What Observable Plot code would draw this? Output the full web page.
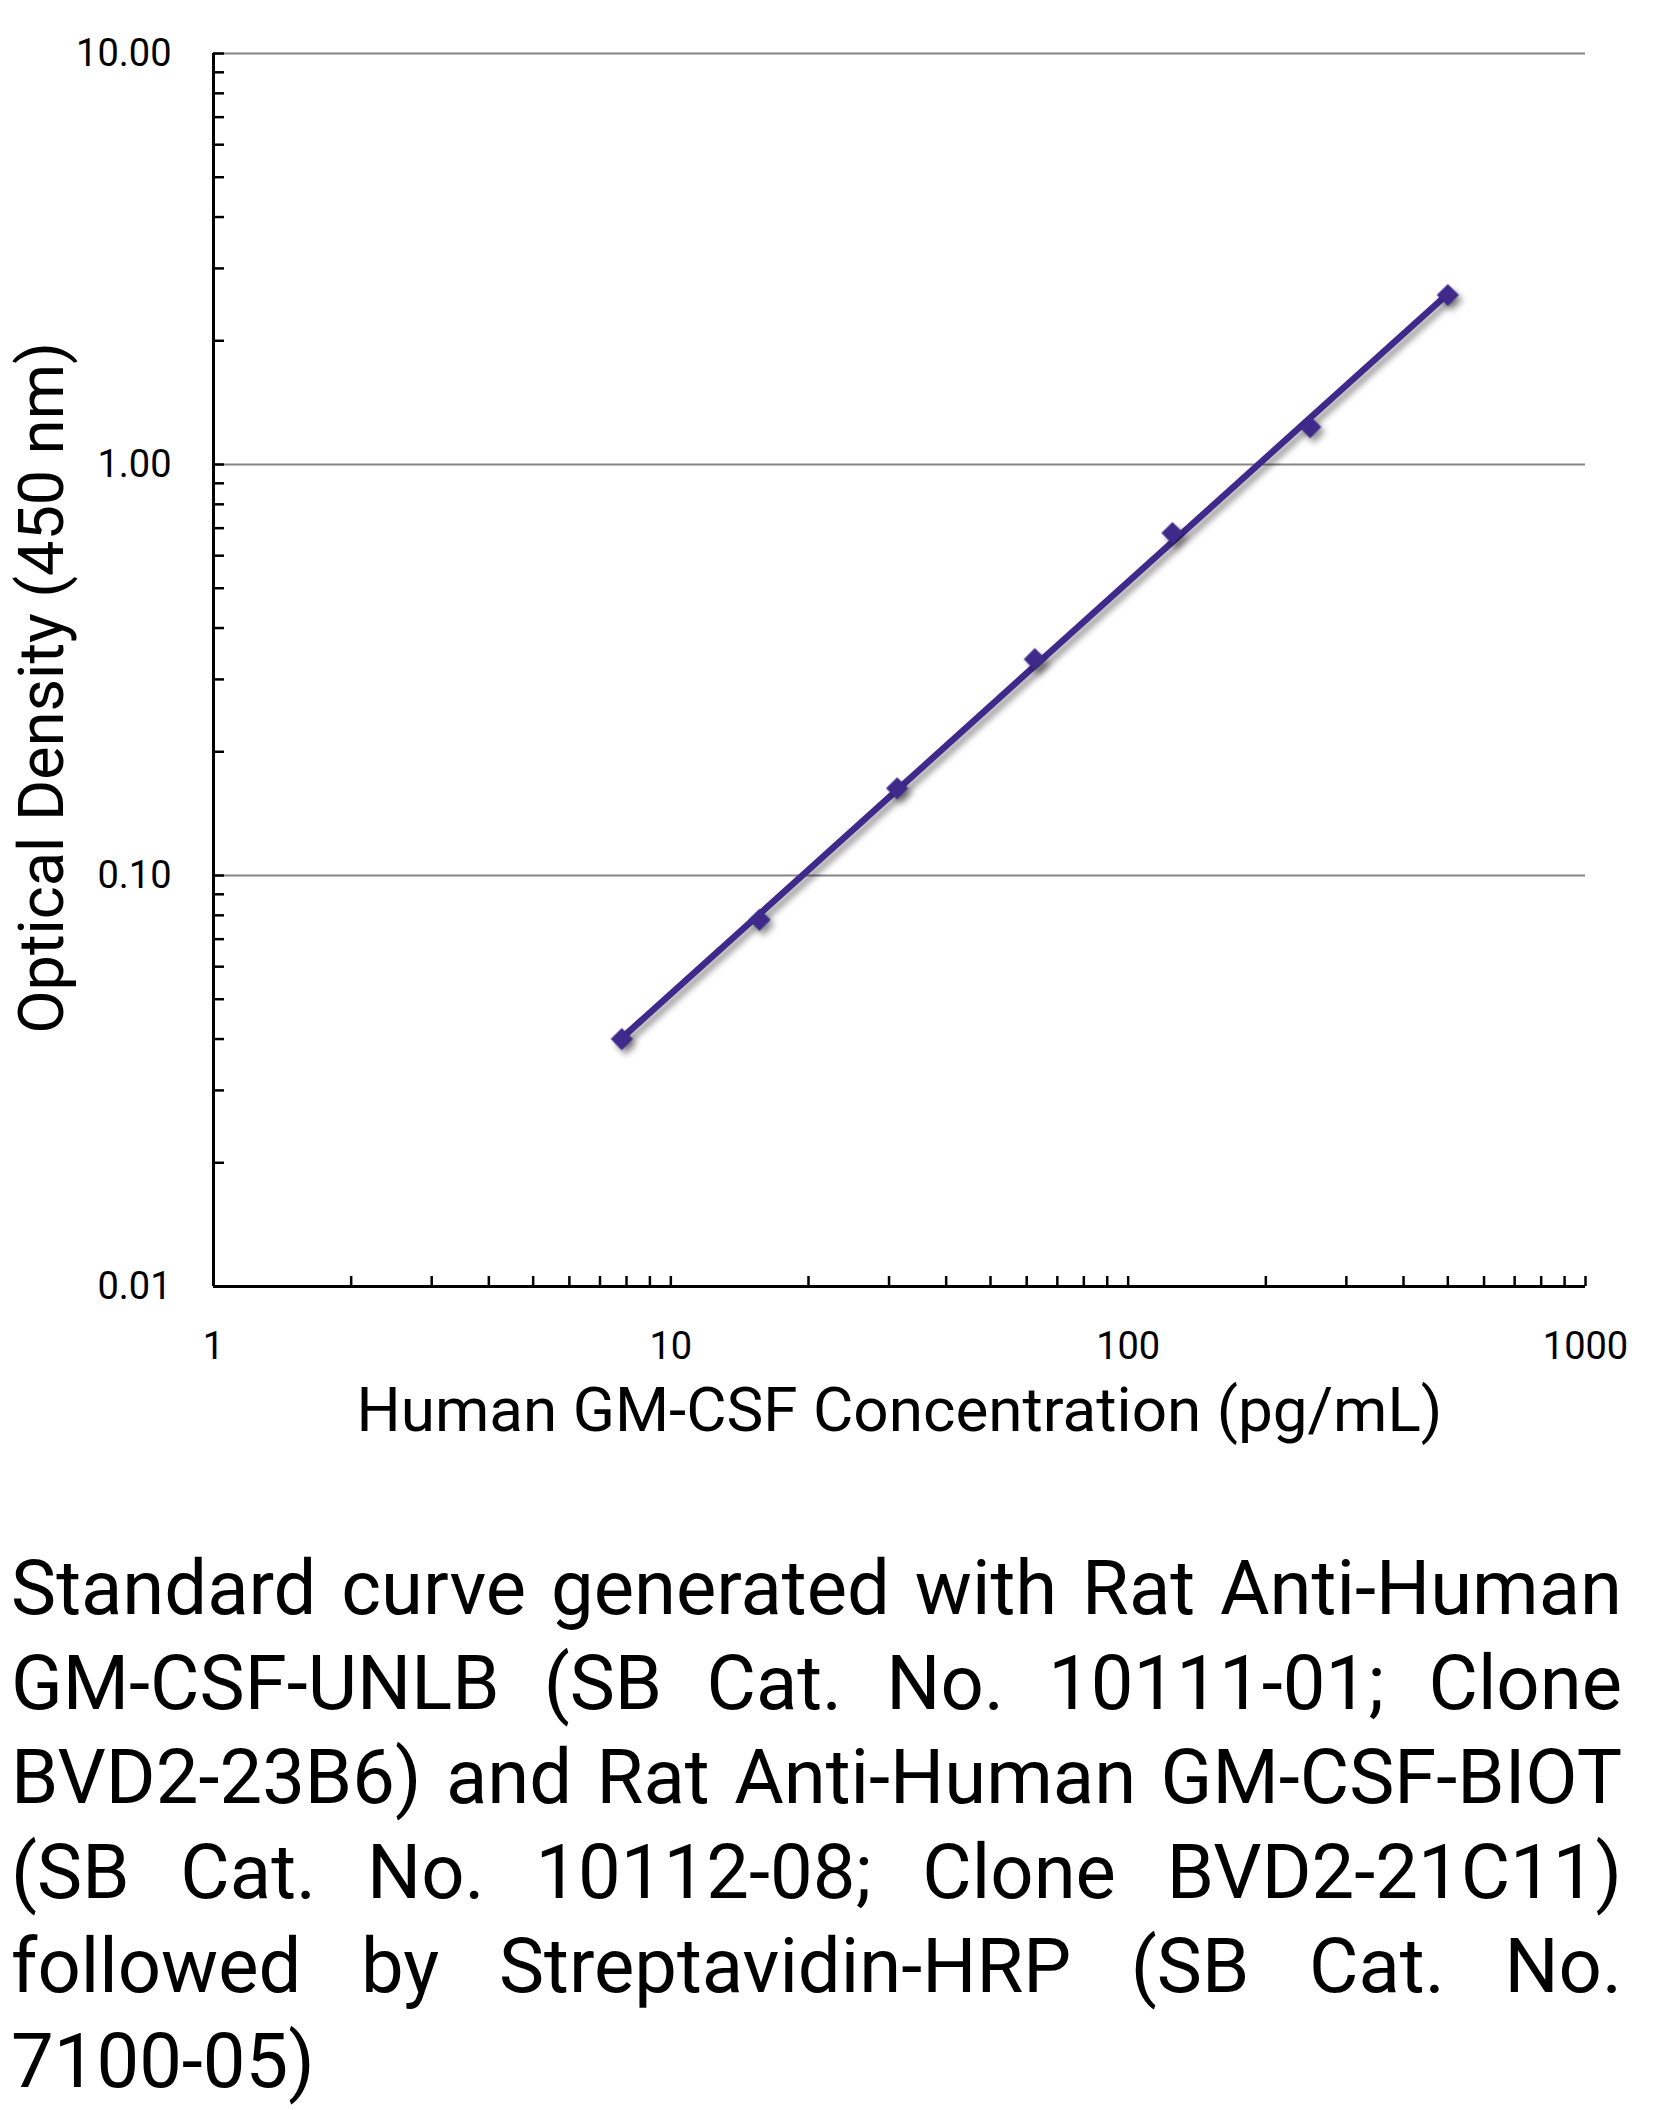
<!DOCTYPE html>
<html>
<head>
<meta charset="utf-8">
<script src="https://cdn.jsdelivr.net/npm/d3@7"></script>
<script src="https://cdn.jsdelivr.net/npm/@observablehq/plot@0.6"></script>
<style>
  html, body { margin: 0; padding: 0; background: #ffffff; }
  #page { position: relative; width: 1658px; height: 2110px; background: #ffffff; overflow: hidden; }
  #chart { position: absolute; left: 0; top: 0; }
  #caption { position: absolute; left: 11px; width: 1611px; top: 1541px; font-family: Roboto, sans-serif; font-size: 76px; line-height: 94.5px; color: #000; }
  #caption .ln { text-align: justify; text-align-last: justify; white-space: nowrap; }
  #caption .ln.last { text-align: left; text-align-last: left; }
</style>
</head>
<body>
<div id="page">
  <div id="chart"></div>
  <div id="caption"></div>
</div>
<script>
// ---- data ----
const concentration = [7.8125, 15.625, 31.25, 62.5, 125, 250, 500];
const opticalDensity = [0.040, 0.078, 0.163, 0.336, 0.681, 1.233, 2.585];
const xTickLabels = [1, 10, 100, 1000];
const yTickLabels = [0.01, 0.1, 1, 10];
const yGridLines = [0.1, 1, 10];
const xTitle = "Human GM-CSF Concentration (pg/mL)";
const yTitle = "Optical Density (450 nm)";
const captionLines = [
  "Standard curve generated with Rat Anti-Human",
  "GM-CSF-UNLB (SB Cat. No. 10111-01; Clone",
  "BVD2-23B6) and Rat Anti-Human GM-CSF-BIOT",
  "(SB Cat. No. 10112-08; Clone BVD2-21C11)",
  "followed by Streptavidin-HRP (SB Cat. No.",
  "7100-05)"
];

const data = concentration.map((c, i) => ({conc: c, od: opticalDensity[i]}));

// power trendline (least squares in log-log space), as in the original standard curve
const lx = concentration.map(Math.log10), ly = opticalDensity.map(Math.log10);
const mx = d3.mean(lx), my = d3.mean(ly);
const slope = d3.sum(lx, (v, i) => (v - mx) * (ly[i] - my)) / d3.sum(lx, v => (v - mx) ** 2);
const intercept = my - slope * mx;
const trend = d3.extent(concentration).map(c => ({conc: c, od: Math.pow(10, intercept + slope * Math.log10(c))}));

const xMinorTicks = d3.scaleLog().domain([1, 1000]).ticks().filter(d => d > 1);
const yMinorTicks = d3.scaleLog().domain([0.01, 10]).ticks().filter(d => d > 0.01);

const W = 1658, H = 1470;
const mL = 213, mT = 53, mR = 73, mB = H - 1286;
const plotW = W - mL - mR, plotH = H - mT - mB;
const purple = "#3f2a8c";

const chart = Plot.plot({
  width: W, height: H,
  marginLeft: mL, marginTop: mT, marginRight: mR, marginBottom: mB,
  style: {fontFamily: "Roboto, sans-serif", background: "#ffffff", color: "#000000", overflow: "visible"},
  x: {type: "log", domain: [1, 1000]},
  y: {type: "log", domain: [0.01, 10]},
  marks: [
    Plot.ruleY(yGridLines, {stroke: "#858585", strokeWidth: 2}),
    Plot.ruleY(yMinorTicks, {stroke: "#000", strokeWidth: 2.5, insetRight: plotW - 11}),
    Plot.ruleX(xMinorTicks, {stroke: "#000", strokeWidth: 2.5, insetTop: plotH - 10}),
    Plot.ruleX([1], {stroke: "#000", strokeWidth: 3}),
    Plot.ruleY([0.01], {stroke: "#000", strokeWidth: 3}),
    Plot.axisY({ticks: yTickLabels, tickFormat: d3.format(".2f"), tickSize: 0, tickPadding: 42, fontSize: 38, label: null}),
    Plot.axisX({ticks: xTickLabels, tickFormat: d => String(d), tickSize: 0, tickPadding: 46, fontSize: 38, label: null}),
    Plot.line(trend, {x: "conc", y: "od", stroke: purple, strokeWidth: 6.5}),
    Plot.dot(data, {x: "conc", y: "od", symbol: "diamond2", r: 10, fill: purple, stroke: "none"}),
    Plot.text([xTitle], {text: d => d, frameAnchor: "bottom", textAnchor: "middle", lineAnchor: "middle", dy: 125, fontSize: 62}),
    Plot.text([yTitle], {text: d => d, frameAnchor: "left", textAnchor: "middle", lineAnchor: "middle", dx: -171, dy: 18, rotate: -90, fontSize: 63})
  ]
});
chart.querySelectorAll('g[aria-label="line"], g[aria-label="dot"]').forEach(g => {
  g.style.filter = "drop-shadow(4px 5px 3px rgba(0,0,0,0.4))";
});
document.getElementById("chart").appendChild(chart);

const cap = document.getElementById("caption");
captionLines.forEach((t, i) => {
  const d = document.createElement("div");
  d.className = "ln" + (i === captionLines.length - 1 ? " last" : "");
  d.textContent = t;
  cap.appendChild(d);
});
</script>
</body>
</html>
